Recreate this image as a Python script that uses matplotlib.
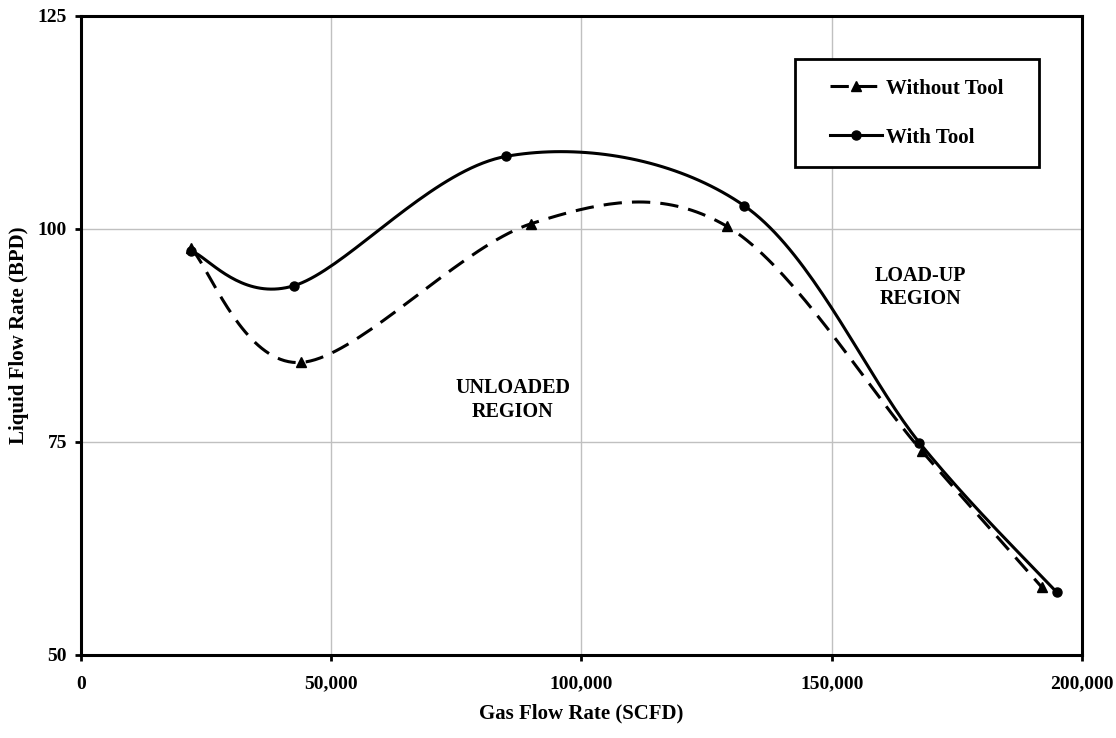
import numpy as np
import matplotlib.pyplot as plt
from matplotlib.patches import Rectangle
from matplotlib.ticker import FuncFormatter

# gas flow rate (SCFD) and liquid flow rate (BPD)
x_without = [22000, 44000, 90000, 129000, 168000, 192000]
y_without = [97.7, 84.3, 100.6, 100.3, 73.9, 57.9]
x_with = [22000, 42500, 85000, 132500, 167500, 195000]
y_with = [97.4, 93.3, 108.5, 102.7, 74.9, 57.3]


def smooth(xs, ys, n=40):
    # catmull-rom style smoothing, like the spreadsheet "smoothed line"
    p = np.column_stack([xs, ys]).astype(float)
    p = np.vstack([p[0], p, p[-1]])
    out = []
    for i in range(1, len(p) - 2):
        p0, p1, p2, p3 = p[i - 1], p[i], p[i + 1], p[i + 2]
        c1 = p1 + (p2 - p0) / 6
        c2 = p2 - (p3 - p1) / 6
        t = np.linspace(0, 1, n)[:, None]
        seg = ((1 - t) ** 3) * p1 + 3 * ((1 - t) ** 2) * t * c1 + 3 * (1 - t) * t ** 2 * c2 + t ** 3 * p2
        out.append(seg if i == 1 else seg[1:])
    out = np.vstack(out)
    return out[:, 0], out[:, 1]


plt.rcParams['font.family'] = 'Liberation Serif'
plt.rcParams['font.weight'] = 'bold'

fig = plt.figure(figsize=(11.16, 7.38), dpi=100)
ax = fig.add_axes([0.0726, 0.1129, 0.8969, 0.8658])

sx, sy = smooth(x_without, y_without)
ax.plot(sx, sy, color='black', lw=2.2, linestyle=(0, (6, 3.3)), zorder=3)
sx, sy = smooth(x_with, y_with)
ax.plot(sx, sy, color='black', lw=2.2, zorder=3)

ax.plot(x_without, y_without, linestyle='none', marker='^', color='black', ms=7, zorder=4)
ax.plot(x_with, y_with, linestyle='none', marker='o', color='black', ms=6.5, zorder=4)

# legend proxies
ax.plot([], [], color='black', lw=2.2, linestyle=(0, (6, 3.3)), marker='^', ms=7, label='Without Tool')
ax.plot([], [], color='black', lw=2.2, marker='o', ms=6.5, label='With Tool')

ax.set_xlim(0, 200000)
ax.set_ylim(50, 125)
ax.set_xticks([0, 50000, 100000, 150000, 200000])
ax.set_yticks([50, 75, 100, 125])
ax.xaxis.set_major_formatter(FuncFormatter(lambda v, p: f'{int(v):,}'))
ax.grid(True, color='#c0c0c0', lw=1)
ax.set_axisbelow(True)
for s in ax.spines.values():
    s.set_linewidth(2.2)
ax.tick_params(axis='both', labelsize=14, length=4, width=2)
ax.tick_params(axis='x', pad=11)
ax.tick_params(axis='y', pad=6)

ax.set_xlabel('Gas Flow Rate (SCFD)', fontsize=15, fontweight='bold', labelpad=8)
ax.set_ylabel('Liquid Flow Rate (BPD)', fontsize=15, fontweight='bold', labelpad=6)

ax.text(86300, 79.9, 'UNLOADED\nREGION', ha='center', va='center', fontsize=14.5,
        fontweight='bold', linespacing=1.25)
ax.text(167800, 93.1, 'LOAD-UP\nREGION', ha='center', va='center', fontsize=14.5,
        fontweight='bold', linespacing=1.25)

# legend box drawn separately so the entries sit centred in it
ax.add_patch(Rectangle((0.713, 0.763), 0.244, 0.169, transform=ax.transAxes,
                       facecolor='white', edgecolor='black', lw=2, zorder=5))
leg = ax.legend(loc='center', bbox_to_anchor=(0.835, 0.8475), fontsize=15, frameon=False,
                handlelength=2.5, handletextpad=0.2, labelspacing=1.4, borderpad=0,
                borderaxespad=0)
leg.set_zorder(6)
for t in leg.get_texts():
    t.set_fontweight('bold')

plt.savefig('out.png', dpi=100)
